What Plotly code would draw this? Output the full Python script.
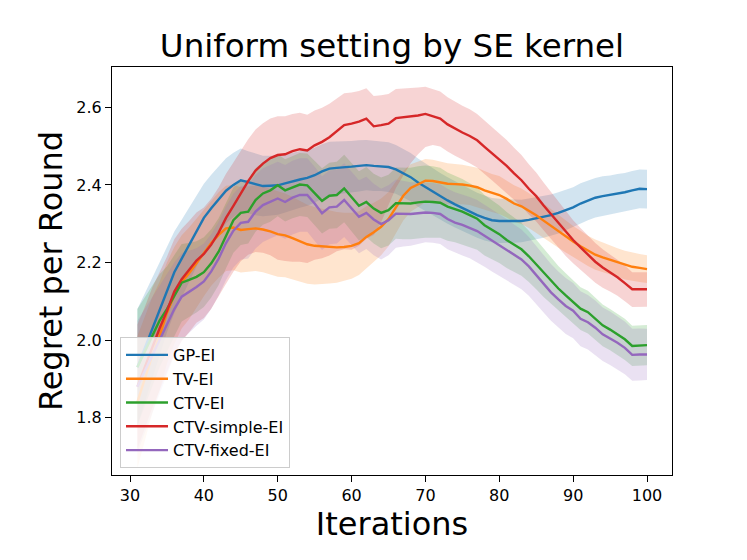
import plotly.graph_objects as go

# iterations on the x axis
iterations = list(range(31, 101))

gp_ei = [1.93, 1.98, 2.03, 2.08, 2.13, 2.175, 2.21, 2.245, 2.28, 2.315,
         2.34, 2.362, 2.385, 2.40, 2.412, 2.407, 2.401, 2.397, 2.398, 2.399,
         2.404, 2.41, 2.414, 2.418, 2.425, 2.435, 2.442, 2.444, 2.445, 2.447,
         2.449, 2.451, 2.449, 2.448, 2.446, 2.44, 2.43, 2.42, 2.406, 2.394,
         2.382, 2.371, 2.36, 2.35, 2.34, 2.331, 2.322, 2.315, 2.309, 2.307,
         2.307, 2.307, 2.307, 2.31, 2.314, 2.318, 2.322, 2.328, 2.335, 2.342,
         2.352, 2.36, 2.367, 2.371, 2.374, 2.378, 2.381, 2.386, 2.39, 2.389]
gp_ei_std = [0.15, 0.14, 0.13, 0.12, 0.11, 0.105, 0.10, 0.095, 0.09, 0.088,
             0.086, 0.085, 0.084, 0.083, 0.082, 0.08, 0.079, 0.078, 0.077, 0.076,
             0.075, 0.074, 0.073, 0.072, 0.071, 0.07, 0.069, 0.068, 0.067, 0.066,
             0.066, 0.065, 0.065, 0.064, 0.064, 0.063, 0.063, 0.062, 0.062, 0.061,
             0.061, 0.06, 0.06, 0.06, 0.059, 0.059, 0.058, 0.058, 0.057, 0.057,
             0.056, 0.056, 0.055, 0.055, 0.054, 0.054, 0.053, 0.053, 0.052, 0.052,
             0.052, 0.051, 0.051, 0.051, 0.05, 0.05, 0.05, 0.05, 0.05, 0.05]

tv_ei = [1.84, 1.90, 1.96, 2.01, 2.07, 2.115, 2.15, 2.172, 2.198, 2.225,
         2.25, 2.271, 2.288, 2.29, 2.284, 2.286, 2.288, 2.285, 2.28, 2.273,
         2.27, 2.263, 2.255, 2.247, 2.243, 2.242, 2.24, 2.239, 2.24, 2.243,
         2.25, 2.266, 2.278, 2.292, 2.312, 2.343, 2.372, 2.392, 2.402, 2.411,
         2.41, 2.406, 2.403, 2.402, 2.401, 2.398, 2.394, 2.386, 2.379, 2.374,
         2.364, 2.352, 2.345, 2.334, 2.322, 2.308, 2.294, 2.28, 2.267, 2.254,
         2.242, 2.23, 2.22, 2.213, 2.207, 2.2, 2.193, 2.189, 2.186, 2.183]
tv_ei_std = [0.17, 0.16, 0.15, 0.14, 0.13, 0.125, 0.12, 0.118, 0.115, 0.112,
             0.11, 0.11, 0.11, 0.11, 0.11, 0.11, 0.11, 0.11, 0.11, 0.11,
             0.108, 0.106, 0.104, 0.102, 0.1, 0.097, 0.094, 0.091, 0.088, 0.085,
             0.082, 0.079, 0.076, 0.073, 0.07, 0.067, 0.064, 0.061, 0.058, 0.056,
             0.055, 0.054, 0.053, 0.052, 0.051, 0.05, 0.05, 0.05, 0.049, 0.049,
             0.048, 0.047, 0.046, 0.045, 0.045, 0.044, 0.043, 0.042, 0.041, 0.04,
             0.04, 0.039, 0.039, 0.038, 0.038, 0.037, 0.037, 0.036, 0.036, 0.036]

ctv_ei = [1.93, 1.97, 2.01, 2.05, 2.08, 2.115, 2.148, 2.155, 2.163, 2.175,
          2.198, 2.228, 2.27, 2.309, 2.328, 2.331, 2.361, 2.378, 2.386, 2.399,
          2.386, 2.394, 2.401, 2.399, 2.378, 2.359, 2.372, 2.374, 2.391, 2.369,
          2.346, 2.356, 2.339, 2.328, 2.335, 2.353, 2.352, 2.352, 2.355, 2.357,
          2.356, 2.354, 2.344, 2.338, 2.331, 2.322, 2.313, 2.296, 2.284, 2.273,
          2.258, 2.245, 2.234, 2.216, 2.195, 2.173, 2.152, 2.133, 2.115, 2.099,
          2.081, 2.072, 2.055, 2.038, 2.027, 2.015, 2.002, 1.985, 1.986, 1.987]
ctv_ei_std = [0.15, 0.14, 0.13, 0.12, 0.11, 0.105, 0.10, 0.095, 0.092, 0.09,
              0.088, 0.086, 0.085, 0.084, 0.083, 0.082, 0.082, 0.081, 0.081, 0.08,
              0.08, 0.08, 0.081, 0.082, 0.083, 0.084, 0.085, 0.086, 0.087, 0.088,
              0.089, 0.09, 0.09, 0.091, 0.091, 0.092, 0.092, 0.092, 0.093, 0.093,
              0.092, 0.09, 0.088, 0.086, 0.084, 0.082, 0.08, 0.078, 0.076, 0.074,
              0.072, 0.07, 0.068, 0.066, 0.064, 0.062, 0.06, 0.058, 0.057, 0.056,
              0.055, 0.055, 0.054, 0.054, 0.053, 0.053, 0.053, 0.052, 0.052, 0.052]

ctv_simple_ei = [1.88, 1.93, 1.985, 2.03, 2.075, 2.125, 2.157, 2.18, 2.205, 2.222,
                 2.246, 2.277, 2.315, 2.346, 2.378, 2.41, 2.437, 2.455, 2.469, 2.477,
                 2.479, 2.487, 2.492, 2.489, 2.502, 2.511, 2.523, 2.539, 2.554, 2.558,
                 2.563, 2.571, 2.551, 2.554, 2.558, 2.572, 2.574, 2.576, 2.579, 2.583,
                 2.578, 2.571, 2.556, 2.545, 2.535, 2.526, 2.515, 2.498, 2.482, 2.465,
                 2.449, 2.43, 2.412, 2.39, 2.371, 2.347, 2.325, 2.302, 2.278, 2.258,
                 2.239, 2.22, 2.202, 2.187, 2.175, 2.162, 2.147, 2.131, 2.131, 2.131]
ctv_simple_ei_up = [0.16, 0.155, 0.15, 0.145, 0.14, 0.135, 0.13, 0.127, 0.124, 0.12,
                    0.118, 0.116, 0.114, 0.112, 0.11, 0.108, 0.106, 0.104, 0.102, 0.10,
                    0.098, 0.096, 0.094, 0.092, 0.09, 0.088, 0.086, 0.084, 0.082, 0.08,
                    0.079, 0.078, 0.078, 0.077, 0.076, 0.075, 0.074, 0.073, 0.072, 0.07,
                    0.07, 0.07, 0.07, 0.069, 0.069, 0.069, 0.068, 0.068, 0.068, 0.068,
                    0.067, 0.066, 0.065, 0.063, 0.061, 0.059, 0.057, 0.055, 0.053, 0.051,
                    0.05, 0.049, 0.048, 0.047, 0.046, 0.045, 0.045, 0.044, 0.044, 0.044]
ctv_simple_ei_down = [0.16, 0.16, 0.16, 0.16, 0.16, 0.16, 0.16, 0.16, 0.16, 0.165,
                      0.165, 0.165, 0.17, 0.17, 0.175, 0.19, 0.21, 0.23, 0.25, 0.27,
                      0.275, 0.285, 0.29, 0.29, 0.295, 0.30, 0.305, 0.31, 0.32, 0.325,
                      0.32, 0.31, 0.28, 0.25, 0.21, 0.18, 0.15, 0.12, 0.10, 0.085,
                      0.075, 0.072, 0.07, 0.07, 0.07, 0.07, 0.07, 0.07, 0.07, 0.07,
                      0.069, 0.068, 0.067, 0.066, 0.065, 0.064, 0.063, 0.062, 0.061, 0.06,
                      0.058, 0.056, 0.054, 0.052, 0.05, 0.048, 0.047, 0.046, 0.045, 0.045]

ctv_fixed_ei = [1.88, 1.92, 1.96, 2.00, 2.04, 2.08, 2.112, 2.124, 2.137, 2.151,
                2.177, 2.21, 2.25, 2.282, 2.302, 2.305, 2.331, 2.348, 2.357, 2.365,
                2.356, 2.367, 2.374, 2.374, 2.352, 2.327, 2.342, 2.344, 2.361, 2.339,
                2.318, 2.328, 2.311, 2.299, 2.309, 2.326, 2.326, 2.325, 2.327, 2.329,
                2.328, 2.325, 2.312, 2.303, 2.297, 2.29, 2.281, 2.269, 2.257, 2.245,
                2.233, 2.22, 2.208, 2.19, 2.168, 2.145, 2.123, 2.105, 2.088, 2.076,
                2.055, 2.046, 2.032, 2.015, 2.005, 1.993, 1.98, 1.962, 1.963, 1.963]
ctv_fixed_ei_std = [0.17, 0.16, 0.15, 0.14, 0.13, 0.12, 0.112, 0.106, 0.10, 0.098,
                    0.096, 0.095, 0.095, 0.095, 0.095, 0.095, 0.095, 0.095, 0.095, 0.095,
                    0.095, 0.095, 0.095, 0.095, 0.095, 0.095, 0.095, 0.095, 0.095, 0.095,
                    0.094, 0.093, 0.092, 0.091, 0.09, 0.088, 0.085, 0.082, 0.079, 0.077,
                    0.077, 0.077, 0.078, 0.078, 0.079, 0.079, 0.08, 0.08, 0.08, 0.08,
                    0.079, 0.078, 0.077, 0.076, 0.075, 0.074, 0.073, 0.072, 0.072, 0.071,
                    0.071, 0.07, 0.07, 0.069, 0.069, 0.068, 0.068, 0.067, 0.067, 0.066]

series = [
    ("GP-EI", gp_ei, gp_ei_std, gp_ei_std, (31, 119, 180)),
    ("TV-EI", tv_ei, tv_ei_std, tv_ei_std, (255, 127, 14)),
    ("CTV-EI", ctv_ei, ctv_ei_std, ctv_ei_std, (44, 160, 44)),
    ("CTV-simple-EI", ctv_simple_ei, ctv_simple_ei_up, ctv_simple_ei_down, (214, 39, 40)),
    ("CTV-fixed-EI", ctv_fixed_ei, ctv_fixed_ei_std, ctv_fixed_ei_std, (148, 103, 189)),
]

fig = go.Figure()

# shaded bands first (matplotlib puts fills under all lines)
for name, mean, up, down, rgb in series:
    upper = [m + u for m, u in zip(mean, up)]
    lower = [m - d for m, d in zip(mean, down)]
    fig.add_trace(go.Scatter(
        x=iterations + iterations[::-1],
        y=upper + lower[::-1],
        fill="toself",
        fillcolor="rgba(%d,%d,%d,0.2)" % rgb,
        line=dict(width=0),
        mode="lines",
        hoverinfo="skip",
        showlegend=False,
    ))

for name, mean, up, down, rgb in series:
    fig.add_trace(go.Scatter(
        x=iterations, y=mean, mode="lines", name=name,
        legendgroup=name,
        line=dict(color="rgb(%d,%d,%d)" % rgb, width=2.4),
    ))

axis_style = dict(
    showline=True, linecolor="black", linewidth=1.2, mirror=True,
    ticks="outside", ticklen=6, tickwidth=1.2, tickcolor="black",
    showgrid=False, zeroline=False,
    tickfont=dict(size=16, color="black"),
)

# page body adds an 8px offset, so margins are shifted by 8px
fig.update_layout(
    width=747, height=560,
    margin=dict(l=104, r=83, t=59, b=93),
    paper_bgcolor="white", plot_bgcolor="white",
    font=dict(family="DejaVu Sans", color="black"),
    title=dict(text="Uniform setting by SE kernel", font=dict(size=32.5),
               x=0.5, xref="paper", xanchor="center",
               y=1 - 38 / 560, yref="container", yanchor="middle"),
    xaxis=dict(range=[27.563, 103.385], tickvals=[30, 40, 50, 60, 70, 80, 90, 100],
               title=dict(text="Iterations", font=dict(size=32), standoff=6),
               **axis_style),
    yaxis=dict(range=[1.6523, 2.7039], tickvals=[1.8, 2.0, 2.2, 2.4, 2.6],
               ticktext=["1.8", "2.0", "2.2", "2.4", "2.6"],
               title=dict(text="Regret per Round", font=dict(size=32), standoff=4),
               **axis_style),
    legend=dict(x=0.0143, y=0.0172, xanchor="left", yanchor="bottom",
                bgcolor="rgba(255,255,255,0.8)", bordercolor="#cccccc", borderwidth=1,
                font=dict(size=16), tracegroupgap=3, traceorder="normal",
                itemwidth=42),
)

fig.write_html("out.html")
